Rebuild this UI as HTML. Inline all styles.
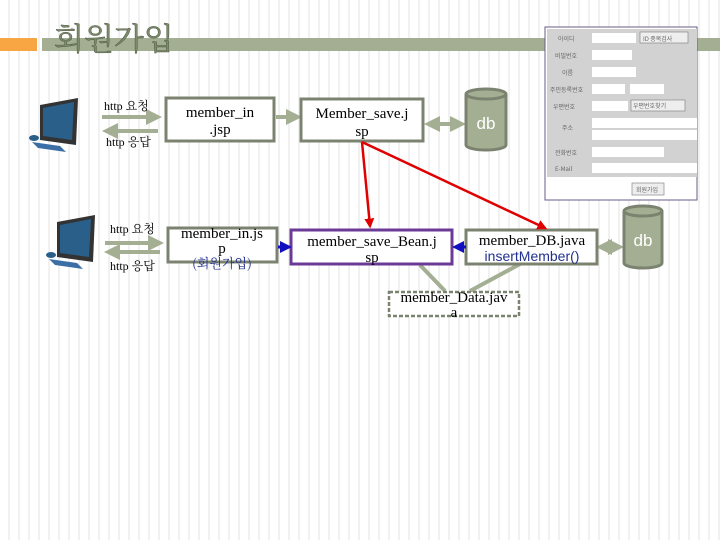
<!DOCTYPE html>
<html><head><meta charset="utf-8"><style>
html,body{margin:0;padding:0}
body{width:720px;height:540px;overflow:hidden;background:#fff repeating-linear-gradient(90deg,#fff 0 8px,#f1f1f1 8px 10px);position:relative;font-family:"Liberation Serif","Noto Serif CJK SC",serif}
svg{position:absolute;left:0;top:0}
</style></head><body>
<svg width="720" height="540" viewBox="0 0 720 540" xmlns="http://www.w3.org/2000/svg">
<defs>
<marker id="g" markerWidth="4" markerHeight="4" refX="3" refY="2" orient="auto" markerUnits="strokeWidth"><path d="M0,0L4,2L0,4z" fill="#a3ae92"/></marker>
<marker id="gs" markerWidth="4" markerHeight="4" refX="1" refY="2" orient="auto" markerUnits="strokeWidth"><path d="M4,0L0,2L4,4z" fill="#a3ae92"/></marker>
<marker id="r" markerWidth="4" markerHeight="4" refX="3" refY="2" orient="auto" markerUnits="strokeWidth"><path d="M0,0L4,2L0,4z" fill="#e00000"/></marker>
<marker id="b" markerWidth="4" markerHeight="4" refX="3" refY="2" orient="auto" markerUnits="strokeWidth"><path d="M0,0L4,2L0,4z" fill="#1010c0"/></marker>
</defs>
<rect x="0" y="38" width="37" height="13" fill="#f7a643"/>
<rect x="42" y="38" width="678" height="13" fill="#a3ae92"/>
<text x="54" y="50" font-size="31" fill="#7d8a6e" font-family="Noto Serif CJK SC,serif" stroke="#4e5a40" stroke-width="0.5">회원가입</text>

<!-- form -->
<rect x="545" y="27" width="152" height="173" fill="#fff" stroke="#6b5b8a" stroke-width="1"/>
<rect x="547" y="29" width="150" height="148" fill="#d2d2d2"/>
<g fill="#fff">
<rect x="592" y="33" width="44" height="10"/><rect x="592" y="50" width="40" height="10"/><rect x="592" y="67" width="44" height="10"/>
<rect x="592" y="84" width="33" height="10"/><rect x="630" y="84" width="34" height="10"/><rect x="592" y="101" width="36" height="10"/>
<rect x="592" y="118" width="105" height="10"/><rect x="592" y="130" width="105" height="10"/><rect x="592" y="147" width="72" height="10"/><rect x="592" y="163" width="105" height="10"/>
</g>
<rect x="640" y="32" width="48" height="11" fill="#eee" stroke="#888" stroke-width="0.7"/>
<rect x="631" y="100" width="54" height="11" fill="#eee" stroke="#888" stroke-width="0.7"/>
<rect x="632" y="183" width="32" height="12" fill="#eee" stroke="#888" stroke-width="0.7"/>
<g font-size="6" fill="#666" font-family="Noto Sans CJK KR,sans-serif">
<text x="558" y="41">아이디</text><text x="555" y="58">비밀번호</text><text x="562" y="75">이름</text><text x="550" y="92">주민등록번호</text>
<text x="553" y="109">우편번호</text><text x="562" y="130">주소</text><text x="555" y="155">전화번호</text><text x="555" y="171">E-Mail</text>
<text x="643" y="41">ID 중복검사</text><text x="633" y="108">우편번호찾기</text><text x="636" y="192">회원가입</text>
</g>

<!-- computers -->
<g id="pc">
<path d="M40,105 L78,98 L76,145 L40,140z" fill="#333"/>
<path d="M43,108 L74,102 L72,140 L43,136z" fill="#2a5f8a"/>
<path d="M32,142 L60,146 L66,152 L38,148z" fill="#3a6ea5"/>
<ellipse cx="34" cy="138" rx="5" ry="3" fill="#2a5f8a"/>
</g>
<use href="#pc" transform="translate(17,117)"/>

<!-- http arrows -->
<g stroke="#a3ae92" stroke-width="4">
<line x1="102" y1="117" x2="158" y2="117" marker-end="url(#g)"/>
<line x1="158" y1="131" x2="106" y2="131" marker-end="url(#g)"/>
<line x1="105" y1="243" x2="160" y2="243" marker-end="url(#g)"/>
<line x1="160" y1="252" x2="108" y2="252" marker-end="url(#g)"/>
<line x1="276" y1="117" x2="298" y2="117" marker-end="url(#g)"/>
<line x1="428" y1="124" x2="462" y2="124" marker-end="url(#g)" marker-start="url(#gs)"/>
<line x1="600" y1="247" x2="620" y2="247" marker-end="url(#g)" marker-start="url(#gs)"/>
<line x1="420" y1="265" x2="445" y2="291"/>
<line x1="520" y1="264" x2="470" y2="291"/>
</g>
<g font-size="12" fill="#000">
<text x="104" y="110">http <tspan font-family="Noto Serif CJK SC">요청</tspan></text>
<text x="106" y="146">http <tspan font-family="Noto Serif CJK SC">응답</tspan></text>
<text x="110" y="233">http <tspan font-family="Noto Serif CJK SC">요청</tspan></text>
<text x="110" y="270">http <tspan font-family="Noto Serif CJK SC">응답</tspan></text>
</g>

<!-- boxes -->
<g fill="#fff" stroke="#7b8370" stroke-width="3">
<rect x="166" y="98" width="108" height="43"/>
<rect x="301" y="99" width="122" height="42"/>
<rect x="168" y="228" width="109" height="34"/>
<rect x="466" y="230" width="131" height="34"/>
</g>
<rect x="291" y="230" width="161" height="34" fill="#fff" stroke="#6b3a96" stroke-width="3"/>
<rect x="389" y="292" width="130" height="24" fill="#fff" stroke="#7b8370" stroke-width="2.5" stroke-dasharray="4,2"/>
<g font-size="15" text-anchor="middle">
<text x="220" y="117">member_in</text><text x="220" y="134">.jsp</text>
<text x="362" y="118">Member_save.j</text><text x="362" y="136">sp</text>
<text x="222" y="238">member_in.js</text><text x="222" y="253">p</text>
<text x="222" y="268" fill="#203090" font-family="Noto Serif CJK SC" font-size="13">(회원가입)</text>
<text x="372" y="246">member_save_Bean.j</text><text x="372" y="262">sp</text>
<text x="532" y="245">member_DB.java</text>
<text x="532" y="261" fill="#203090" font-family="Liberation Sans" font-size="14">insertMember()</text>
<text x="454" y="302">member_Data.jav</text><text x="454" y="317">a</text>
</g>

<!-- db cylinders -->
<g fill="#a3ae92" stroke="#7b8370" stroke-width="3">
<path d="M466,94 L466,145 A20,5 0 0 0 506,145 L506,94"/>
<ellipse cx="486" cy="94" rx="20" ry="5"/>
<path d="M624,211 L624,263 A19,5 0 0 0 662,263 L662,211"/>
<ellipse cx="643" cy="211" rx="19" ry="5"/>
</g>
<g fill="#fff" font-family="Liberation Sans" font-size="17" text-anchor="middle">
<text x="486" y="129">db</text><text x="643" y="246">db</text>
</g>

<!-- red / blue arrows -->
<g stroke="#e00000" stroke-width="2.5">
<line x1="362" y1="142" x2="370" y2="226" marker-end="url(#r)"/>
<line x1="362" y1="142" x2="545" y2="228" marker-end="url(#r)"/>
</g>
<g stroke="#1010c0" stroke-width="3">
<line x1="278" y1="247" x2="289" y2="247" marker-end="url(#b)"/>
<line x1="466" y1="247" x2="455" y2="247" marker-end="url(#b)"/>
</g>
</svg>
</body></html>
